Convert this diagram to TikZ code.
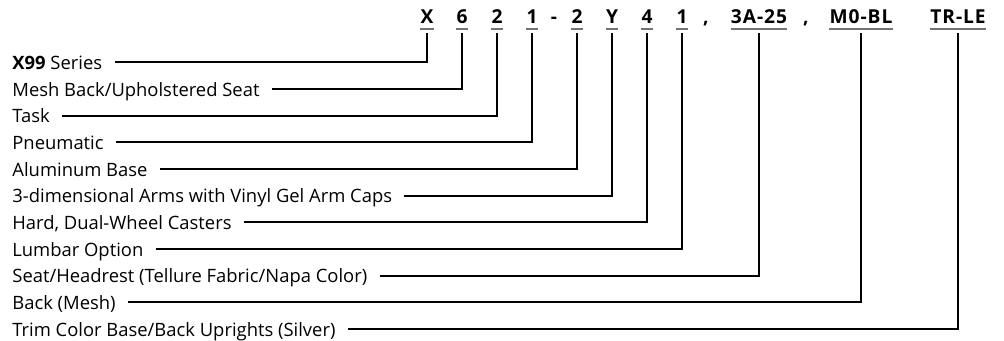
\documentclass[tikz,border=0pt]{standalone}
\usepackage{fontspec}
\setmainfont{Open Sans}
\usetikzlibrary{positioning}

\begin{document}
\begin{tikzpicture}[
            x=0.5pt, y=-0.5pt,
            item/.style={anchor=west, inner xsep=6pt, inner ysep=0pt, text height=0.71em, text depth=0pt, font=\fontsize{9.2}{11}\selectfont},
            part/.style={anchor=south, inner sep=0pt, text height=0.71em, text depth=0pt, font=\fontsize{9.6}{11}\selectfont\bfseries\addfontfeature{LetterSpace=5}},
            underlined/.style={part, append after command={([yshift=-2.5pt]\tikzlastnode.south west) edge[black!55, line width=1pt] ([yshift=-2.5pt]\tikzlastnode.south east)}},
            link/.style={line width=1pt, shorten >=4.5pt}
        ]
            \useasboundingbox (0,0) rectangle (1004,341);

            % model code
            \node[underlined] (c1) at (427,24) {X};
            \node[underlined] (c2) at (462,24) {6};
            \node[underlined] (c3) at (497,24) {2};
            \node[underlined] (c4) at (532,24) {1};
            \node[part] (dash) at (554,24) {-};
            \node[underlined] (c5) at (577,24) {2};
            \node[underlined] (c6) at (612,24) {Y};
            \node[underlined] (c7) at (647,24) {4};
            \node[underlined] (c8) at (682,24) {1};
            \node[part] (comma1) at (706,24) {,};
            \node[underlined] (c9) at (759,24) {3A-25};
            \node[part] (comma2) at (806,24) {,};
            \node[underlined] (c10) at (861,24) {M0-BL};
            \node[underlined] (c11) at (958,24) {TR-LE};

            % descriptions
            \node[item] (l1) at (0,62.3) {\textbf{X99} Series};
            \node[item, below=13.33pt of l1.west, anchor=west] (l2) {Mesh Back/Upholstered Seat};
            \node[item, below=13.33pt of l2.west, anchor=west] (l3) {Task};
            \node[item, below=13.33pt of l3.west, anchor=west] (l4) {Pneumatic};
            \node[item, below=13.33pt of l4.west, anchor=west] (l5) {Aluminum Base};
            \node[item, below=13.33pt of l5.west, anchor=west] (l6) {3-dimensional Arms with Vinyl Gel Arm Caps};
            \node[item, below=13.33pt of l6.west, anchor=west] (l7) {Hard, Dual-Wheel Casters};
            \node[item, below=13.33pt of l7.west, anchor=west] (l8) {Lumbar Option};
            \node[item, below=13.33pt of l8.west, anchor=west] (l9) {Seat/Headrest (Tellure Fabric/Napa Color)};
            \node[item, below=13.33pt of l9.west, anchor=west] (l10) {Back (Mesh)};
            \node[item, below=13.33pt of l10.west, anchor=west] (l11) {Trim Color Base/Back Uprights (Silver)};

            \draw[link] (l1.east) -| (c1.south);
            \draw[link] (l2.east) -| (c2.south);
            \draw[link] (l3.east) -| (c3.south);
            \draw[link] (l4.east) -| (c4.south);
            \draw[link] (l5.east) -| (c5.south);
            \draw[link] (l6.east) -| (c6.south);
            \draw[link] (l7.east) -| (c7.south);
            \draw[link] (l8.east) -| (c8.south);
            \draw[link] (l9.east) -| (c9.south);
            \draw[link] (l10.east) -| (c10.south);
            \draw[link] (l11.east) -| (c11.south);
        \end{tikzpicture}
\end{document}
